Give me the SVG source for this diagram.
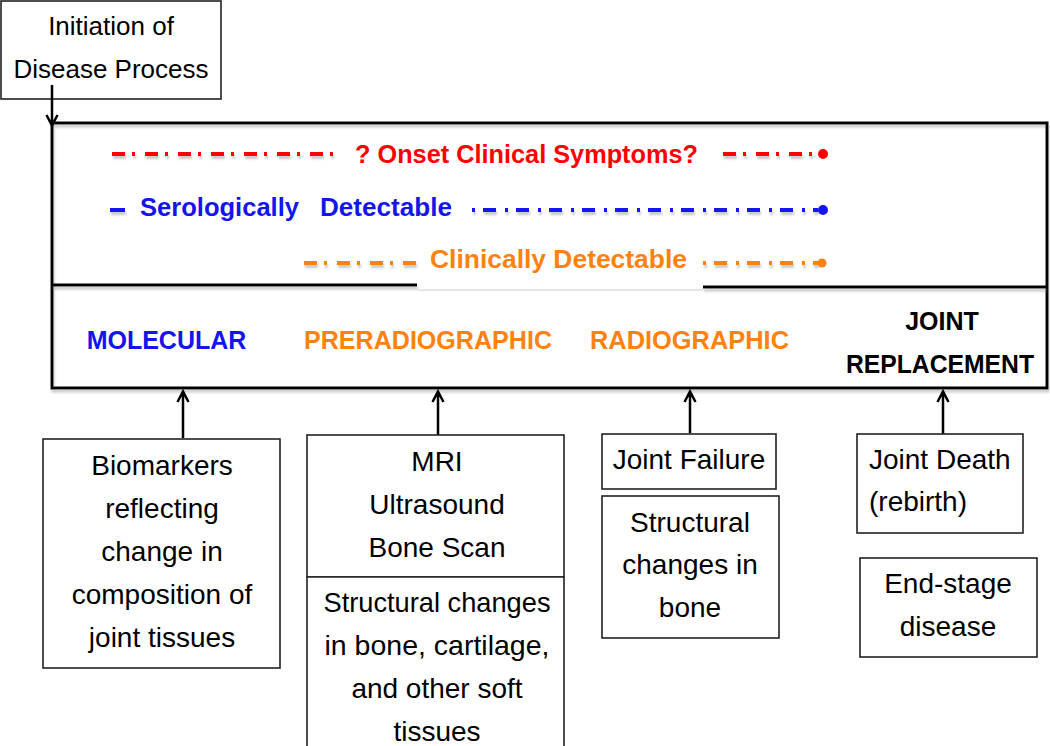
<svg xmlns="http://www.w3.org/2000/svg" width="1050" height="746" viewBox="0 0 1050 746">
<style>
text{font-family:"Liberation Sans",Arial,sans-serif;fill:#000}
.n{font-size:28px;text-anchor:middle}
.t{font-size:26px;text-anchor:middle}
.b{font-size:26px;font-weight:bold}
.bc{font-size:25px;font-weight:bold;text-anchor:middle}
.box{fill:#fff;stroke:#222;stroke-width:1.6}
.main{fill:none;stroke:#000;stroke-width:3}
.div{stroke:#000;stroke-width:3}
.dd{fill:none;stroke-width:4;stroke-dasharray:13 7 3 10}
.red{stroke:#FF0000}.blue{stroke:#1414EE}.org{stroke:#FF820F}
.arr{stroke:#000;stroke-width:2.5;fill:none}
</style>
<defs>
<filter id="sh" filterUnits="userSpaceOnUse" x="0" y="0" width="1050" height="746">
<feDropShadow dx="1" dy="3" stdDeviation="1" flood-color="#888" flood-opacity="0.45"/>
</filter>
</defs>

<g id="initiation">
<rect class="box" x="1" y="1" width="220" height="98"/>
<text class="t" x="111" y="35">Initiation of</text>
<text class="t" x="111" y="78">Disease Process</text>
</g>

<g id="timeline">
<rect class="main" x="52" y="123" width="995" height="265" filter="url(#sh)"/>
<line class="div" x1="52" y1="285" x2="417" y2="285" filter="url(#sh)"/>
<line class="div" x1="703" y1="287" x2="1046" y2="287" filter="url(#sh)"/>
<line x1="417" y1="290" x2="703" y2="290" stroke="#e6e6e6" stroke-width="2"/>
</g>

<g id="onset">
<path class="dd red" d="M112 154H340M723 154H818" filter="url(#sh)"/>
<circle cx="823" cy="154" r="5" fill="#FF0000"/>
<text class="b" x="355" y="163" style="fill:#FF0000" textLength="343" lengthAdjust="spacingAndGlyphs">? Onset Clinical Symptoms?</text>
</g>

<g id="serologic">
<path class="dd blue" d="M110 210H125" style="stroke-dasharray:none" filter="url(#sh)"/>
<path class="dd blue" d="M472 210H818" style="stroke-dasharray:3 8 13 9" filter="url(#sh)"/>
<circle cx="823" cy="210" r="5" fill="#1414EE"/>
<text class="b" x="140" y="216" style="fill:#1414EE" textLength="159" lengthAdjust="spacingAndGlyphs">Serologically</text>
<text class="b" x="320" y="216" style="fill:#1414EE" textLength="132" lengthAdjust="spacingAndGlyphs">Detectable</text>
</g>

<g id="clinical">
<path class="dd org" d="M304 263H416" filter="url(#sh)"/>
<path class="dd org" d="M703 263H818" style="stroke-dasharray:3 8 13 9" filter="url(#sh)"/>
<circle cx="822" cy="263" r="4.5" fill="#FF820F"/>
<text class="b" x="430" y="268" style="fill:#FF820F" textLength="257" lengthAdjust="spacingAndGlyphs">Clinically Detectable</text>
</g>

<g id="stages">
<text class="bc" x="166.5" y="349" style="fill:#1414EE">MOLECULAR</text>
<text class="bc" x="428" y="349" style="fill:#FF820F" textLength="248" lengthAdjust="spacingAndGlyphs">PRERADIOGRAPHIC</text>
<text class="bc" x="689.5" y="349" style="fill:#FF820F" textLength="199" lengthAdjust="spacingAndGlyphs">RADIOGRAPHIC</text>
<text class="bc" x="942" y="330">JOINT</text>
<text class="bc" x="940" y="373" textLength="188" lengthAdjust="spacingAndGlyphs">REPLACEMENT</text>
</g>

<g id="connectors">
<path class="arr" d="M52 85V125M46.5 115L52 125.5L57.5 115"/>
<path class="arr" d="M183 438V392M177.5 402L183 391.5L188.5 402"/>
<path class="arr" d="M438 435V392M432.5 402L438 391.5L443.5 402"/>
<path class="arr" d="M690 433V392M684.5 402L690 391.5L695.5 402"/>
<path class="arr" d="M943 434V392M937.5 402L943 391.5L948.5 402"/>
</g>

<g id="biomarkers">
<rect class="box" x="43" y="439" width="237" height="229"/>
<text class="n" x="162" y="475">Biomarkers</text>
<text class="n" x="162" y="518">reflecting</text>
<text class="n" x="162" y="561">change in</text>
<text class="n" x="162" y="604">composition of</text>
<text class="n" x="162" y="647">joint tissues</text>
</g>

<g id="imaging">
<rect class="box" x="307" y="435" width="257" height="142"/>
<text class="n" x="437" y="471">MRI</text>
<text class="n" x="437" y="514">Ultrasound</text>
<text class="n" x="437" y="557">Bone Scan</text>
</g>

<g id="prerad-changes">
<path class="box" d="M307 746V577H564V746"/>
<text class="n" x="437" y="612" textLength="227" lengthAdjust="spacingAndGlyphs">Structural changes</text>
<text class="n" x="437" y="655" textLength="225" lengthAdjust="spacingAndGlyphs">in bone, cartilage,</text>
<text class="n" x="437" y="698">and other soft</text>
<text class="n" x="437" y="741">tissues</text>
</g>

<g id="joint-failure">
<rect class="box" x="602" y="434" width="174" height="55"/>
<text class="n" x="689" y="469">Joint Failure</text>
</g>

<g id="rad-changes">
<rect class="box" x="602" y="496" width="177" height="142"/>
<text class="n" x="690" y="532">Structural</text>
<text class="n" x="690" y="574">changes in</text>
<text class="n" x="690" y="617">bone</text>
</g>

<g id="joint-death">
<rect class="box" x="857" y="434" width="166" height="99"/>
<text class="n" x="869" y="469" style="text-anchor:start">Joint Death</text>
<text class="n" x="869" y="511" style="text-anchor:start">(rebirth)</text>
</g>

<g id="end-stage">
<rect class="box" x="860" y="558" width="177" height="99"/>
<text class="n" x="948" y="593">End-stage</text>
<text class="n" x="948" y="636">disease</text>
</g>
</svg>
